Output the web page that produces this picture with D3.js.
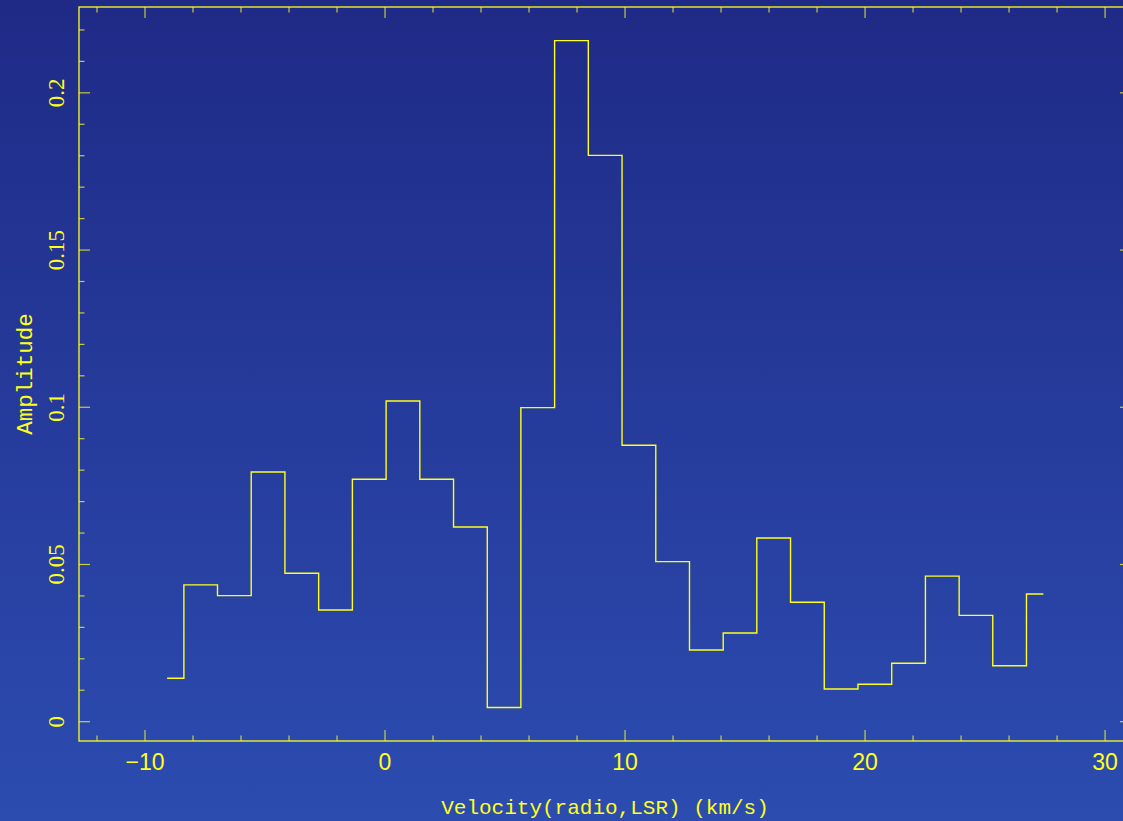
<!DOCTYPE html>
<meta charset="utf-8">
<head>
<style>
  html, body { margin: 0; padding: 0; overflow: hidden; }
  svg { display: block; }
  .lbl { fill: #ffff1a; }
</style>
</head>
<body>
<script src="https://cdnjs.cloudflare.com/ajax/libs/d3/7.8.5/d3.min.js"></script>
<script>

// channel centres (km/s) and amplitudes
var velocity = [-9.08, -7.68, -6.28, -4.87, -3.47, -2.06, -0.66, 0.75, 2.15, 3.56,
                4.96, 6.36, 7.77, 9.17, 10.58, 11.98, 13.39, 14.79, 16.19, 17.60,
                19.00, 20.41, 21.81, 23.22, 24.62, 26.02, 27.43];
var amplitude = [0.0138, 0.0435, 0.0401, 0.0794, 0.0472, 0.0355, 0.0771, 0.1020, 0.0771, 0.0619,
                 0.0045, 0.0999, 0.2166, 0.1801, 0.0879, 0.0509, 0.0228, 0.0282, 0.0584, 0.0380,
                 0.0104, 0.0119, 0.0186, 0.0463, 0.0338, 0.0178, 0.0406];
var xTickLabels = [-10, 0, 10, 20, 30];
var yTickLabels = [0, 0.05, 0.1, 0.15, 0.2];

var W = 1123, H = 821;
var frame = {left: 79, top: 7, right: 1131, bottom: 741};
var yellow = "#ffff1a";

var x = d3.scaleLinear().domain([-12.75, 31.08]).range([frame.left, frame.right]);
var y = d3.scaleLinear().domain([-0.00614, 0.2273]).range([frame.bottom, frame.top]);

var svg = d3.select("body").append("svg")
    .attr("width", W)
    .attr("height", H);

var grad = svg.append("defs").append("linearGradient")
    .attr("id", "bg").attr("x1", 0).attr("y1", 0).attr("x2", 0).attr("y2", 1);
grad.append("stop").attr("offset", "0%").attr("stop-color", "#1f2a86");
grad.append("stop").attr("offset", "100%").attr("stop-color", "#2c4cb0");

svg.append("rect").attr("width", W).attr("height", H).attr("fill", "url(#bg)");

// ticks on all four sides
var xMinor = d3.range(-12, 32, 2);
var yMinor = d3.range(0, 0.23, 0.01);
var isMajX = function(d) { return Math.abs(d % 10) < 1e-6; };
var isMajY = function(d) { return Math.abs(Math.round(d * 100) % 5) === 0; };

var ticks = svg.append("g").attr("stroke", yellow).attr("stroke-opacity", 0.75).attr("stroke-width", 1.2);

ticks.selectAll(".xb").data(xMinor).enter().append("line")
    .attr("x1", function(d) { return x(d); }).attr("x2", function(d) { return x(d); })
    .attr("y1", frame.bottom).attr("y2", function(d) { return frame.bottom - (isMajX(d) ? 11 : 5.5); });
ticks.selectAll(".xt").data(xMinor).enter().append("line")
    .attr("x1", function(d) { return x(d); }).attr("x2", function(d) { return x(d); })
    .attr("y1", frame.top).attr("y2", function(d) { return frame.top + (isMajX(d) ? 11 : 5.5); });
ticks.selectAll(".yl").data(yMinor).enter().append("line")
    .attr("y1", function(d) { return y(d); }).attr("y2", function(d) { return y(d); })
    .attr("x1", frame.left).attr("x2", function(d) { return frame.left + (isMajY(d) ? 11 : 5.5); });
ticks.selectAll(".yr").data(yMinor).enter().append("line")
    .attr("y1", function(d) { return y(d); }).attr("y2", function(d) { return y(d); })
    .attr("x1", frame.right).attr("x2", function(d) { return frame.right - (isMajY(d) ? 11 : 5.5); });

// frame
svg.append("rect")
    .attr("x", frame.left).attr("y", frame.top)
    .attr("width", frame.right - frame.left).attr("height", frame.bottom - frame.top)
    .attr("fill", "none").attr("stroke", yellow).attr("stroke-width", 1.3);

// spectrum
var line = d3.line()
    .x(function(d, i) { return x(velocity[i]); })
    .y(function(d) { return y(d); })
    .curve(d3.curveStep);

svg.append("path")
    .datum(amplitude)
    .attr("d", line)
    .attr("fill", "none")
    .attr("stroke", yellow)
    .attr("stroke-width", 1.4);

// tick labels
svg.selectAll(".xl").data(xTickLabels).enter().append("text")
    .attr("class", "lbl")
    .attr("x", function(d) { return x(d); })
    .attr("y", 770)
    .attr("text-anchor", "middle")
    .style("font-family", "'Liberation Sans', sans-serif")
    .style("font-size", "23px")
    .text(function(d) { return d < 0 ? "\u2212" + Math.abs(d) : d; });

svg.selectAll(".ylb").data(yTickLabels).enter().append("text")
    .attr("class", "lbl")
    .attr("transform", function(d) { return "translate(64," + y(d) + ") rotate(-90)"; })
    .attr("text-anchor", "middle")
    .style("font-family", "'Liberation Serif', serif")
    .style("font-size", "23px")
    .text(function(d) { return d; });

// axis titles
svg.append("text")
    .attr("class", "lbl")
    .attr("x", 605).attr("y", 814)
    .attr("text-anchor", "middle")
    .style("font-family", "'Liberation Mono', monospace")
    .style("font-size", "21px")
    .text("Velocity(radio,LSR) (km/s)");

svg.append("text")
    .attr("class", "lbl")
    .attr("transform", "translate(32,374) rotate(-90)")
    .attr("text-anchor", "middle")
    .style("font-family", "'Liberation Mono', monospace")
    .style("font-size", "22.5px")
    .text("Amplitude");

</script>
</body>
